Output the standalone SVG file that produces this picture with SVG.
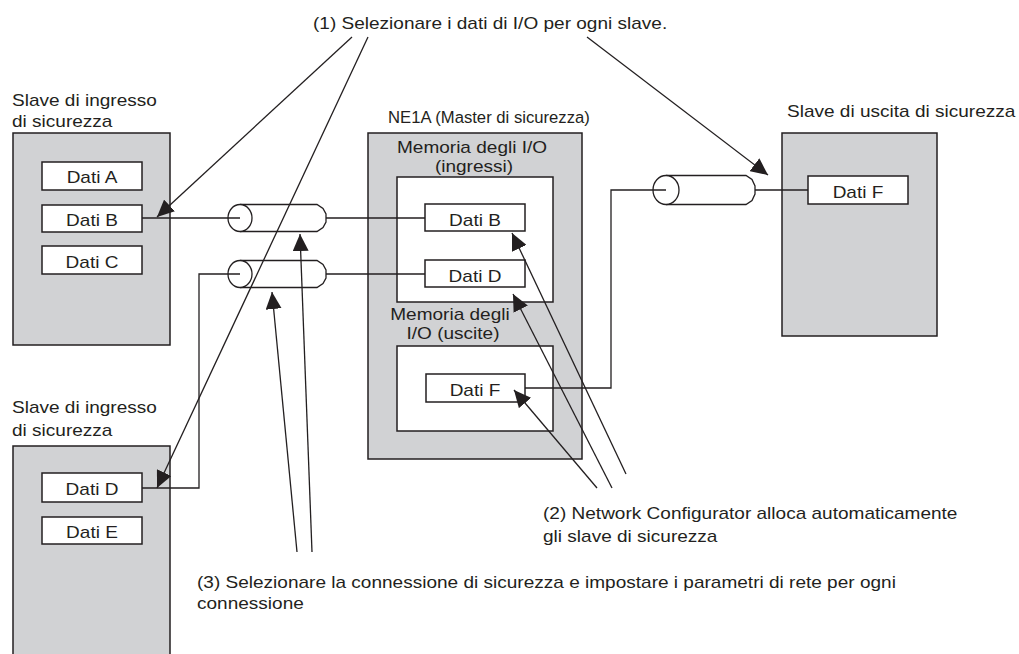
<svg xmlns="http://www.w3.org/2000/svg" width="1019" height="654" viewBox="0 0 1019 654">
<defs>
<style>
.box{fill:#d1d2d4;stroke:#231f20;stroke-width:1.5}
.wbox{fill:#ffffff;stroke:#231f20;stroke-width:1.5}
.cyl{fill:#ffffff;stroke:#231f20;stroke-width:1.3}
.ln{fill:none;stroke:#231f20;stroke-width:1.3}
.ar{fill:none;stroke:#231f20;stroke-width:1.3;marker-end:url(#ah)}
text{font-family:"Liberation Sans",Arial,Helvetica,sans-serif;font-size:17px;fill:#231f20}
.c{text-anchor:middle}
</style>
<marker id="ah" viewBox="0 0 17 16" refX="17" refY="8" markerWidth="17" markerHeight="16" markerUnits="userSpaceOnUse" orient="auto">
<path d="M0,0 L17,8 L0,16 z" fill="#231f20"/>
</marker>
</defs>
<rect width="1019" height="654" fill="#ffffff"/>

<g id="slave-in-1">
<text transform="translate(12,106) scale(1.12,1)">Slave di ingresso</text>
<text transform="translate(12,127) scale(1.12,1)">di sicurezza</text>
<rect class="box" x="13" y="133" width="157" height="212"/>
<rect class="wbox" x="42" y="162" width="100" height="28"/>
<text class="c" transform="translate(92,183) scale(1.12,1)">Dati A</text>
<rect class="wbox" x="42" y="205" width="100" height="27"/>
<text class="c" transform="translate(92,226) scale(1.12,1)">Dati B</text>
<rect class="wbox" x="42" y="246" width="100" height="28"/>
<text class="c" transform="translate(92,268) scale(1.12,1)">Dati C</text>
</g>

<g id="slave-in-2">
<text transform="translate(12,413) scale(1.12,1)">Slave di ingresso</text>
<text transform="translate(12,436) scale(1.12,1)">di sicurezza</text>
<rect class="box" x="13" y="446" width="157" height="220"/>
<rect class="wbox" x="42" y="473" width="100" height="29"/>
<text class="c" transform="translate(92,495) scale(1.12,1)">Dati D</text>
<rect class="wbox" x="42" y="517" width="100" height="27"/>
<text class="c" transform="translate(92,538) scale(1.12,1)">Dati E</text>
</g>

<g id="master">
<text transform="translate(388,123) scale(0.98,1)">NE1A (Master di sicurezza)</text>
<rect class="box" x="368" y="133" width="214" height="326"/>
<text class="c" transform="translate(472,153) scale(1.12,1)">Memoria degli I/O</text>
<text class="c" transform="translate(474,172) scale(1.12,1)">(ingressi)</text>
<rect class="wbox" x="397" y="177" width="156" height="125"/>
<rect class="wbox" x="425" y="204" width="100" height="27"/>
<text class="c" transform="translate(475,226) scale(1.12,1)">Dati B</text>
<rect class="wbox" x="425" y="260" width="100" height="27"/>
<text class="c" transform="translate(475,282) scale(1.12,1)">Dati D</text>
<text class="c" transform="translate(450,320) scale(1.12,1)">Memoria degli</text>
<text class="c" transform="translate(453,339) scale(1.12,1)">I/O (uscite)</text>
<rect class="wbox" x="397" y="346" width="156" height="85"/>
<rect class="wbox" x="426" y="374" width="99" height="28"/>
<text class="c" transform="translate(475,396) scale(1.12,1)">Dati F</text>
</g>

<g id="slave-out">
<text transform="translate(787,117) scale(1.12,1)">Slave di uscita di sicurezza</text>
<rect class="box" x="782" y="133" width="155" height="203"/>
<rect class="wbox" x="808" y="176" width="100" height="28"/>
<text class="c" transform="translate(858,198) scale(1.12,1)">Dati F</text>
</g>

<g id="connectors">
<g id="cyl1">
<path class="cyl" d="M240,204.5 H317 L323,208.5 L326,214 V222 L323,227.5 L317,231.5 H240"/>
<ellipse class="cyl" cx="240" cy="218" rx="12" ry="13.5"/>
</g>
<g id="cyl2">
<path class="cyl" d="M240,260.5 H317 L323,264.5 L326,270 V278 L323,283.5 L317,287.5 H240"/>
<ellipse class="cyl" cx="240" cy="274" rx="12" ry="13.5"/>
</g>
<g id="cyl3">
<path class="cyl" d="M666,175.5 H746 L752,179.5 L755,186 V194 L752,200.5 L746,204.5 H666"/>
<ellipse class="cyl" cx="666" cy="190" rx="13" ry="14.5"/>
</g>
<path class="ln" d="M142,218 H240 M326,218 H425"/>
<path class="ln" d="M142,488 H199 V274 H240 M326,274 H425"/>
<path class="ln" d="M525,388 H611 V190 H666 M755,190 H808"/>
<path class="ar" d="M352,37 L157,217"/>
<path class="ar" d="M368,37 L157,488"/>
<path class="ar" d="M587,37 L768,175"/>
<path class="ar" d="M626,474 L512,233"/>
<path class="ar" d="M612,488 L513,294"/>
<path class="ar" d="M597,488 L514,390"/>
<path class="ar" d="M297,552 L272,292"/>
<path class="ar" d="M312,552 L300,234"/>
</g>

<g id="labels">
<text transform="translate(313,29) scale(1.12,1)">(1) Selezionare i dati di I/O per ogni slave.</text>
<text transform="translate(543,519) scale(1.12,1)">(2) Network Configurator alloca automaticamente</text>
<text transform="translate(543,542) scale(1.12,1)">gli slave di sicurezza</text>
<text transform="translate(197,588) scale(1.12,1)">(3) Selezionare la connessione di sicurezza e impostare i parametri di rete per ogni</text>
<text transform="translate(197,609) scale(1.12,1)">connessione</text>
</g>
</svg>
